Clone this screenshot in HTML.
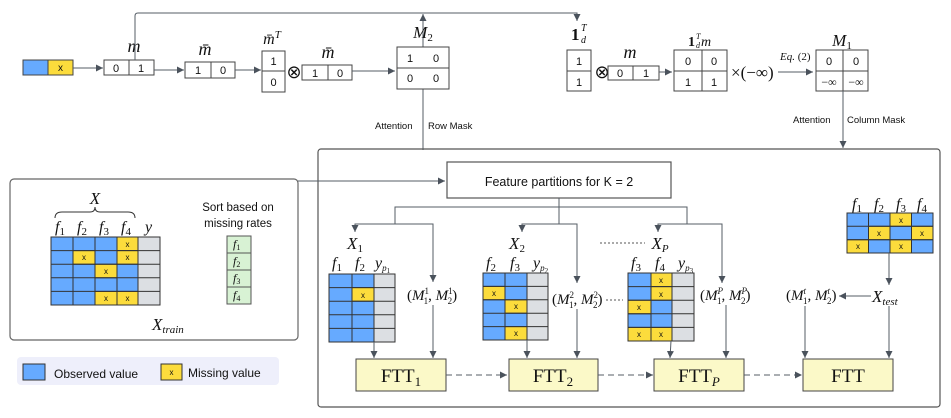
<!DOCTYPE html>
<html><head><meta charset="utf-8"><style>
body{margin:0;background:#fff}
svg{display:block}
.s{font-family:"Liberation Sans",sans-serif;fill:#111}
.m{font-family:"Liberation Serif",serif;font-style:italic;fill:#111}
.r{font-family:"Liberation Serif",serif;fill:#111}
.ln{stroke:#555d66;stroke-width:1;fill:none}
.bx{fill:#fff;stroke:#444;stroke-width:1}
</style></head><body>
<svg width="951" height="418" viewBox="0 0 951 418" xmlns="http://www.w3.org/2000/svg">
<defs><marker id="a" markerWidth="8" markerHeight="8" refX="7" refY="4" orient="auto" markerUnits="userSpaceOnUse"><path d="M0,0.5 L7,4 L0,7.5z" fill="#4a525c"/></marker></defs>

<rect x="23" y="60" width="25" height="15" fill="#66aaff" stroke="#444"/>
<rect x="48" y="60" width="25" height="15" fill="#fcdc3c" stroke="#444"/>
<text x="60.5" y="71" class="s" font-size="10" text-anchor="middle">x</text>
<line x1="73" y1="68" x2="103" y2="68" class="ln" marker-end="url(#a)"/>
<rect x="104" y="60" width="50" height="15" class="bx"/><line x1="129" y1="60" x2="129" y2="75" stroke="#444"/>
<text x="116" y="72" class="s" font-size="11" text-anchor="middle">0</text><text x="141" y="72" class="s" font-size="11" text-anchor="middle">1</text>
<text x="134" y="52" class="m" font-size="18" text-anchor="middle">m</text>
<path d="M135,60 V16 Q135,13 138,13 H577 V21" class="ln" marker-end="url(#a)"/>
<line x1="423" y1="150" x2="423" y2="14" class="ln" marker-end="url(#a)"/>

<line x1="154" y1="70" x2="184" y2="70" class="ln" marker-end="url(#a)"/>
<rect x="185" y="62" width="50" height="16" class="bx"/><line x1="211" y1="62" x2="211" y2="78" stroke="#444"/>
<text x="198" y="74" class="s" font-size="11" text-anchor="middle">1</text><text x="223" y="74" class="s" font-size="11" text-anchor="middle">0</text>
<text x="205" y="55" class="m" font-size="18" text-anchor="middle">m̄</text>

<line x1="235" y1="70" x2="261" y2="70" class="ln" marker-end="url(#a)"/>
<rect x="262" y="51" width="23" height="41" class="bx"/><line x1="262" y1="71" x2="285" y2="71" stroke="#444"/>
<text x="273.5" y="65" class="s" font-size="11" text-anchor="middle">1</text><text x="273.5" y="86" class="s" font-size="11" text-anchor="middle">0</text>
<text x="272" y="44" class="m" font-size="16" text-anchor="middle">m̄<tspan font-size="11" dy="-6">T</tspan></text>
<text x="294" y="78" class="r" font-size="18" text-anchor="middle">⊗</text>
<rect x="302" y="65" width="50" height="15" class="bx"/><line x1="328" y1="65" x2="328" y2="80" stroke="#444"/>
<text x="315" y="77" class="s" font-size="11" text-anchor="middle">1</text><text x="340" y="77" class="s" font-size="11" text-anchor="middle">0</text>
<text x="328" y="58" class="m" font-size="18" text-anchor="middle">m̄</text>
<line x1="352" y1="71" x2="395" y2="71" class="ln" marker-end="url(#a)"/>
<rect x="397" y="47" width="52" height="42" class="bx"/><line x1="397" y1="68" x2="449" y2="68" stroke="#444"/>
<text x="410" y="62" class="s" font-size="11" text-anchor="middle">1</text><text x="436" y="62" class="s" font-size="11" text-anchor="middle">0</text>
<text x="410" y="82" class="s" font-size="11" text-anchor="middle">0</text><text x="436" y="82" class="s" font-size="11" text-anchor="middle">0</text>
<text x="423" y="38" class="m" font-size="17" text-anchor="middle">M<tspan font-style="normal" font-size="11" dy="3">2</tspan></text>
<text x="375" y="129" class="s" font-size="9.5">Attention</text><text x="428" y="129" class="s" font-size="9.5">Row Mask</text>

<rect x="567" y="50" width="24" height="41" class="bx"/><line x1="567" y1="71" x2="591" y2="71" stroke="#444"/>
<text x="579" y="65" class="s" font-size="11" text-anchor="middle">1</text><text x="579" y="86" class="s" font-size="11" text-anchor="middle">1</text>
<text x="571" y="40" class="r" font-size="17" font-weight="bold">1</text><text x="581" y="31" class="m" font-size="10">T</text><text x="581" y="43" class="m" font-size="10">d</text>
<text x="602" y="78" class="r" font-size="18" text-anchor="middle">⊗</text>
<rect x="608" y="66" width="51" height="14" class="bx"/><line x1="633" y1="66" x2="633" y2="80" stroke="#444"/>
<text x="620" y="77" class="s" font-size="11" text-anchor="middle">0</text><text x="646" y="77" class="s" font-size="11" text-anchor="middle">1</text>
<text x="630" y="58" class="m" font-size="18" text-anchor="middle">m</text>
<line x1="659" y1="72" x2="672" y2="72" class="ln" marker-end="url(#a)"/>
<rect x="674" y="50" width="53" height="41" class="bx"/><line x1="702" y1="50" x2="702" y2="91" stroke="#444"/><line x1="674" y1="71" x2="727" y2="71" stroke="#444"/>
<text x="688" y="65" class="s" font-size="11" text-anchor="middle">0</text><text x="714" y="65" class="s" font-size="11" text-anchor="middle">0</text>
<text x="688" y="86" class="s" font-size="11" text-anchor="middle">1</text><text x="714" y="86" class="s" font-size="11" text-anchor="middle">1</text>
<text x="688" y="46" class="r" font-size="14" font-weight="bold">1</text><text x="696" y="39" class="m" font-size="8">T</text><text x="696" y="48" class="m" font-size="8">d</text><text x="701" y="46" class="m" font-size="14">m</text>
<text x="731" y="78" class="r" font-size="17">×(−∞)</text>
<text x="780" y="60" class="m" font-size="11">Eq.<tspan font-style="normal"> (2)</tspan></text>
<line x1="778" y1="72" x2="813" y2="72" class="ln" marker-end="url(#a)"/>
<rect x="816" y="50" width="52" height="41" class="bx"/><line x1="843" y1="50" x2="843" y2="91" stroke="#444"/><line x1="816" y1="71" x2="868" y2="71" stroke="#444"/>
<text x="829" y="65" class="s" font-size="11" text-anchor="middle">0</text><text x="856" y="65" class="s" font-size="11" text-anchor="middle">0</text>
<text x="829" y="86" class="r" font-size="12" text-anchor="middle">−∞</text><text x="856" y="86" class="r" font-size="12" text-anchor="middle">−∞</text>
<text x="842" y="46" class="m" font-size="17" text-anchor="middle">M<tspan font-style="normal" font-size="11" dy="3">1</tspan></text>
<line x1="843" y1="91" x2="843" y2="148" class="ln" marker-end="url(#a)"/>
<text x="793" y="123" class="s" font-size="9.5">Attention</text><text x="847" y="123" class="s" font-size="9.5">Column Mask</text>

<rect x="318" y="149" width="622" height="258" rx="3" fill="none" stroke="#555" stroke-width="1.2"/>
<rect x="10" y="179" width="288" height="161" rx="4" fill="#fff" stroke="#666" stroke-width="1.2"/>
<line x1="298" y1="181" x2="445" y2="181" class="ln" marker-end="url(#a)"/>
<text x="95" y="204" class="m" font-size="17" text-anchor="middle">X</text>
<path d="M55,218 Q55,212 62,212 H90 Q95,212 95,207 Q95,212 100,212 H128 Q135,212 135,218" fill="none" stroke="#333"/>
<g class="m" font-size="16"><text x="55" y="232">f<tspan font-style="normal" font-size="11" dy="3">1</tspan></text><text x="77" y="232">f<tspan font-style="normal" font-size="11" dy="3">2</tspan></text><text x="99" y="232">f<tspan font-style="normal" font-size="11" dy="3">3</tspan></text><text x="121" y="232">f<tspan font-style="normal" font-size="11" dy="3">4</tspan></text><text x="145" y="232">y</text></g>
<g stroke="#333" stroke-width="1">
<rect x="51" y="237" width="87" height="68" fill="#66aaff"/>
<rect x="138" y="237" width="22" height="68" fill="#dcdfe3"/>
<rect x="117" y="237" width="21" height="13.6" fill="#fcdc3c"/>
<rect x="73" y="250.6" width="22" height="13.6" fill="#fcdc3c"/>
<rect x="117" y="250.6" width="21" height="13.6" fill="#fcdc3c"/>
<rect x="95" y="264.2" width="22" height="13.6" fill="#fcdc3c"/>
<rect x="95" y="291.4" width="22" height="13.6" fill="#fcdc3c"/>
<rect x="117" y="291.4" width="21" height="13.6" fill="#fcdc3c"/>
<path d="M73,237V305M95,237V305M117,237V305M138,237V305M51,250.6H160M51,264.2H160M51,277.8H160M51,291.4H160" fill="none"/>
</g>
<g class="s" font-size="8" text-anchor="middle"><text x="127.5" y="247">x</text><text x="84" y="260">x</text><text x="127.5" y="260">x</text><text x="106" y="274">x</text><text x="106" y="301">x</text><text x="127.5" y="301">x</text></g>
<text x="238" y="211" class="s" font-size="11.5" text-anchor="middle">Sort based on</text>
<text x="238" y="227" class="s" font-size="11.5" text-anchor="middle">missing rates</text>
<g stroke="#555" fill="#d8f2d4"><rect x="227" y="236" width="24" height="17"/><rect x="227" y="253" width="24" height="17"/><rect x="227" y="270" width="24" height="17"/><rect x="227" y="287" width="24" height="17"/></g>
<g class="m" font-size="12"><text x="233" y="248">f<tspan font-style="normal" font-size="8" dy="2">1</tspan></text><text x="233" y="265">f<tspan font-style="normal" font-size="8" dy="2">2</tspan></text><text x="233" y="282">f<tspan font-style="normal" font-size="8" dy="2">3</tspan></text><text x="233" y="299">f<tspan font-style="normal" font-size="8" dy="2">4</tspan></text></g>
<text x="152" y="330" class="m" font-size="17">X<tspan font-size="11" dy="3">train</tspan></text>
<rect x="17" y="357" width="262" height="28" rx="4" fill="#eeeffb"/>
<rect x="23" y="364" width="22" height="16" fill="#66aaff" stroke="#333"/>
<text x="54" y="378" class="s" font-size="12">Observed value</text>
<rect x="161" y="364" width="21" height="16" fill="#fcdc3c" stroke="#333"/>
<text x="171.5" y="375" class="s" font-size="8" text-anchor="middle">x</text>
<text x="188" y="377" class="s" font-size="12">Missing value</text>

<rect x="447" y="162" width="224" height="36" fill="#fff" stroke="#555" stroke-width="1.2"/>
<text x="559" y="186" class="s" font-size="12.5" text-anchor="middle">Feature partitions for K = 2</text>
<path d="M559,198V224M395,224V207H687V224" class="ln"/>
<path d="M395,224H355V232" class="ln" marker-end="url(#a)"/><path d="M395,224H433V282" class="ln" marker-end="url(#a)"/>
<path d="M559,224H522V232" class="ln" marker-end="url(#a)"/><path d="M559,224H577V283" class="ln" marker-end="url(#a)"/>
<path d="M687,224H658V232" class="ln" marker-end="url(#a)"/><path d="M687,224H722V283" class="ln" marker-end="url(#a)"/>

<text x="355" y="249" class="m" font-size="17" text-anchor="middle">X<tspan font-style="normal" font-size="11" dy="3">1</tspan></text>
<g class="m" font-size="16"><text x="332" y="268">f<tspan font-style="normal" font-size="11" dy="3">1</tspan></text><text x="355" y="268">f<tspan font-style="normal" font-size="11" dy="3">2</tspan></text><text x="375" y="268">y<tspan font-size="9" dy="3">p<tspan font-style="normal" font-size="7" dy="2">1</tspan></tspan></text></g>
<g stroke="#333"><rect x="329" y="274" width="45" height="68" fill="#66aaff"/><rect x="374" y="274" width="21" height="68" fill="#dcdfe3"/><rect x="352" y="287.6" width="22" height="13.6" fill="#fcdc3c"/>
<path d="M352,274V342M329,287.6H395M329,301.2H395M329,314.8H395M329,328.4H395" fill="none"/></g>
<text x="363" y="298" class="s" font-size="8" text-anchor="middle">x</text>
<text x="407" y="300" class="m" font-size="15"><tspan font-style="normal">(</tspan>M<tspan font-style="normal" font-size="9" dy="-6">1</tspan><tspan font-style="normal" font-size="9" dx="-5" dy="10">1</tspan><tspan font-style="normal" dy="-4">, </tspan>M<tspan font-style="normal" font-size="9" dy="-6">1</tspan><tspan font-style="normal" font-size="9" dx="-5" dy="10">2</tspan><tspan font-style="normal" dy="-4">)</tspan></text>
<line x1="374" y1="342" x2="374" y2="358" class="ln" marker-end="url(#a)"/>
<line x1="433" y1="305" x2="433" y2="358" class="ln" marker-end="url(#a)"/>
<rect x="356" y="359" width="90" height="32" fill="#fbf9c8" stroke="#444"/>
<text x="401" y="382" class="r" font-size="19" text-anchor="middle">FTT<tspan font-size="13" dy="4">1</tspan></text>
<line x1="446" y1="375" x2="507" y2="375" class="ln" stroke-dasharray="6,4" marker-end="url(#a)"/>

<text x="517" y="249" class="m" font-size="17" text-anchor="middle">X<tspan font-style="normal" font-size="11" dy="3">2</tspan></text>
<g class="m" font-size="16"><text x="486" y="268">f<tspan font-style="normal" font-size="11" dy="3">2</tspan></text><text x="510" y="268">f<tspan font-style="normal" font-size="11" dy="3">3</tspan></text><text x="533" y="268">y<tspan font-size="9" dy="3">p<tspan font-style="normal" font-size="7" dy="2">2</tspan></tspan></text></g>
<g stroke="#333"><rect x="483" y="273" width="44" height="67" fill="#66aaff"/><rect x="527" y="273" width="21" height="67" fill="#dcdfe3"/>
<rect x="483" y="286.4" width="22" height="13.4" fill="#fcdc3c"/><rect x="505" y="299.8" width="22" height="13.4" fill="#fcdc3c"/><rect x="505" y="326.6" width="22" height="13.4" fill="#fcdc3c"/>
<path d="M505,273V340M483,286.4H548M483,299.8H548M483,313.2H548M483,326.6H548" fill="none"/></g>
<g class="s" font-size="8" text-anchor="middle"><text x="494" y="296">x</text><text x="516" y="309">x</text><text x="516" y="336">x</text></g>
<text x="552" y="304" class="m" font-size="15"><tspan font-style="normal">(</tspan>M<tspan font-style="normal" font-size="9" dy="-6">2</tspan><tspan font-style="normal" font-size="9" dx="-5" dy="10">1</tspan><tspan font-style="normal" dy="-4">, </tspan>M<tspan font-style="normal" font-size="9" dy="-6">2</tspan><tspan font-style="normal" font-size="9" dx="-5" dy="10">2</tspan><tspan font-style="normal" dy="-4">)</tspan></text>
<line x1="606" y1="300" x2="623" y2="300" stroke="#555" stroke-dasharray="2,2"/>
<line x1="527" y1="340" x2="527" y2="358" class="ln" marker-end="url(#a)"/>
<line x1="577" y1="309" x2="577" y2="358" class="ln" marker-end="url(#a)"/>
<rect x="509" y="359" width="89" height="32" fill="#fbf9c8" stroke="#444"/>
<text x="553" y="382" class="r" font-size="19" text-anchor="middle">FTT<tspan font-size="13" dy="4">2</tspan></text>
<line x1="598" y1="375" x2="653" y2="375" class="ln" stroke-dasharray="6,4" marker-end="url(#a)"/>

<line x1="600" y1="243" x2="645" y2="243" stroke="#555" stroke-dasharray="2,2"/>
<text x="660" y="249" class="m" font-size="17" text-anchor="middle">X<tspan font-size="11" dy="3">P</tspan></text>
<g class="m" font-size="16"><text x="631" y="268">f<tspan font-style="normal" font-size="11" dy="3">3</tspan></text><text x="655" y="268">f<tspan font-style="normal" font-size="11" dy="3">4</tspan></text><text x="678" y="268">y<tspan font-size="9" dy="3">p<tspan font-style="normal" font-size="7" dy="2">3</tspan></tspan></text></g>
<g stroke="#333"><rect x="628" y="273" width="44" height="68" fill="#66aaff"/><rect x="672" y="273" width="22" height="68" fill="#dcdfe3"/>
<rect x="651" y="273" width="21" height="13.6" fill="#fcdc3c"/><rect x="651" y="286.6" width="21" height="13.6" fill="#fcdc3c"/><rect x="628" y="300.2" width="23" height="13.6" fill="#fcdc3c"/><rect x="628" y="327.4" width="23" height="13.6" fill="#fcdc3c"/><rect x="651" y="327.4" width="21" height="13.6" fill="#fcdc3c"/>
<path d="M651,273V341M628,286.6H694M628,300.2H694M628,313.8H694M628,327.4H694" fill="none"/></g>
<g class="s" font-size="8" text-anchor="middle"><text x="661" y="283">x</text><text x="661" y="297">x</text><text x="639" y="310">x</text><text x="639" y="337">x</text><text x="661" y="337">x</text></g>
<text x="700" y="300" class="m" font-size="15"><tspan font-style="normal">(</tspan>M<tspan font-size="9" dy="-6">P</tspan><tspan font-style="normal" font-size="9" dx="-6" dy="10">1</tspan><tspan font-style="normal" dy="-4">, </tspan>M<tspan font-size="9" dy="-6">P</tspan><tspan font-style="normal" font-size="9" dx="-6" dy="10">2</tspan><tspan font-style="normal" dy="-4">)</tspan></text>
<line x1="671" y1="341" x2="670" y2="358" class="ln" marker-end="url(#a)"/>
<line x1="726" y1="305" x2="726" y2="358" class="ln" marker-end="url(#a)"/>
<rect x="654" y="359" width="90" height="32" fill="#fbf9c8" stroke="#444"/>
<text x="699" y="382" class="r" font-size="19" text-anchor="middle">FTT<tspan font-style="italic" font-size="13" dy="4">P</tspan></text>
<line x1="744" y1="375" x2="802" y2="375" class="ln" stroke-dasharray="6,4" marker-end="url(#a)"/>

<g class="m" font-size="16"><text x="852" y="209">f<tspan font-style="normal" font-size="11" dy="3">1</tspan></text><text x="874" y="209">f<tspan font-style="normal" font-size="11" dy="3">2</tspan></text><text x="896" y="209">f<tspan font-style="normal" font-size="11" dy="3">3</tspan></text><text x="917" y="209">f<tspan font-style="normal" font-size="11" dy="3">4</tspan></text></g>
<g stroke="#333"><rect x="847" y="213" width="86" height="40" fill="#66aaff"/>
<rect x="890" y="213" width="21.5" height="13.3" fill="#fcdc3c"/><rect x="868.5" y="226.3" width="21.5" height="13.4" fill="#fcdc3c"/><rect x="911.5" y="226.3" width="21.5" height="13.4" fill="#fcdc3c"/><rect x="847" y="239.7" width="21.5" height="13.3" fill="#fcdc3c"/><rect x="890" y="239.7" width="21.5" height="13.3" fill="#fcdc3c"/>
<path d="M868.5,213V253M890,213V253M911.5,213V253M847,226.3H933M847,239.7H933" fill="none"/></g>
<g class="s" font-size="8" text-anchor="middle"><text x="901" y="223">x</text><text x="879" y="236">x</text><text x="922" y="236">x</text><text x="858" y="249">x</text><text x="901" y="249">x</text></g>
<line x1="889" y1="253" x2="889" y2="285" class="ln" marker-end="url(#a)"/>
<text x="872" y="302" class="m" font-size="17">X<tspan font-size="11" dy="3">test</tspan></text>
<line x1="871" y1="296" x2="839" y2="296" class="ln" marker-end="url(#a)"/>
<text x="786" y="300" class="m" font-size="15"><tspan font-style="normal">(</tspan>M<tspan font-size="9" dy="-6">t</tspan><tspan font-style="normal" font-size="9" dx="-3" dy="10">1</tspan><tspan font-style="normal" dy="-4">, </tspan>M<tspan font-size="9" dy="-6">t</tspan><tspan font-style="normal" font-size="9" dx="-3" dy="10">2</tspan><tspan font-style="normal" dy="-4">)</tspan></text>
<line x1="805" y1="306" x2="805" y2="358" class="ln" marker-end="url(#a)"/>
<line x1="889" y1="306" x2="889" y2="358" class="ln" marker-end="url(#a)"/>
<rect x="803" y="359" width="90" height="32" fill="#fbf9c8" stroke="#444"/>
<text x="848" y="382" class="r" font-size="19" text-anchor="middle">FTT</text>
</svg>
</body></html>
